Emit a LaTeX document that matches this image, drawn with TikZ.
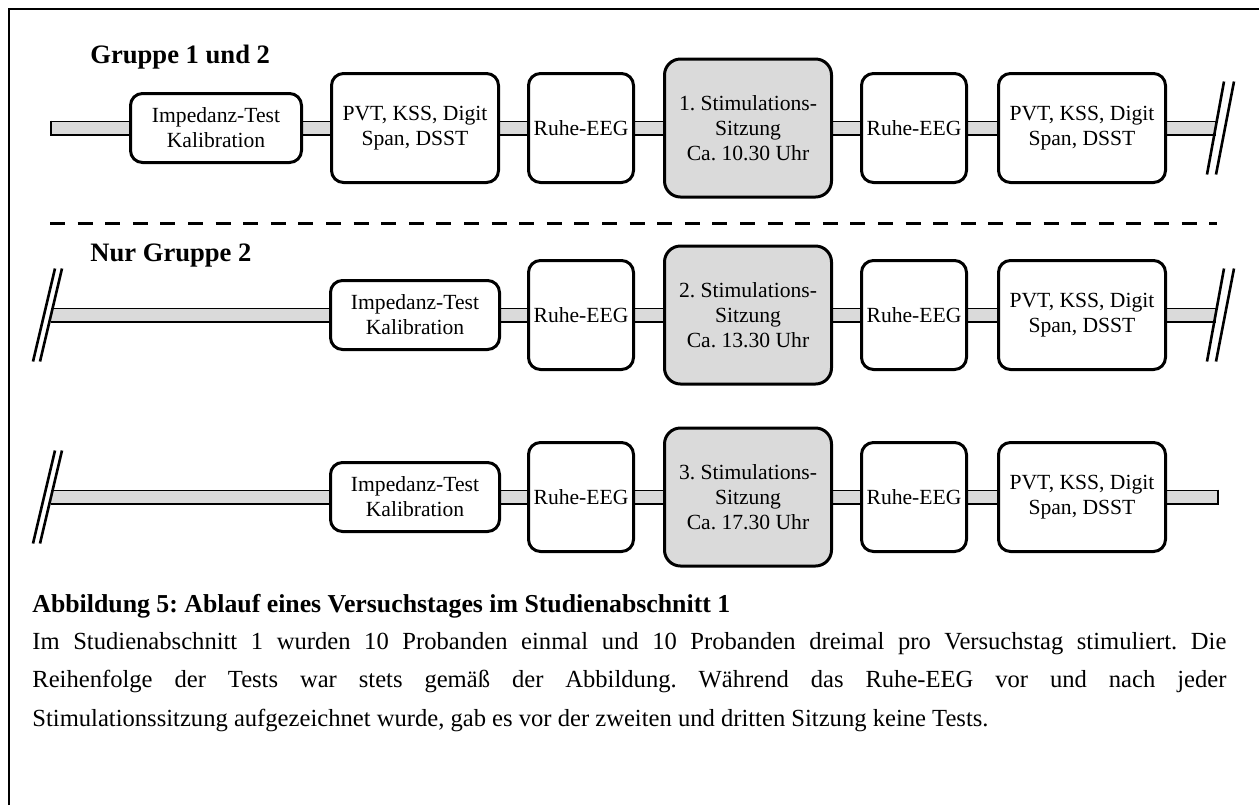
\documentclass[tikz,border=0pt]{standalone}
\usepackage{fontspec}
\setmainfont{Liberation Serif}
\definecolor{barcol}{RGB}{218,218,218}
\pgfdeclarelayer{bg}
\pgfsetlayers{bg,main}
\frenchspacing
\begin{document}
\begin{tikzpicture}[x=0.5pt,y=-0.5pt,
  stepbox/.style={draw=black, line width=1.5pt, fill=white, rounded corners=6pt,
    align=center, inner sep=0pt, font=\fontsize{10.8}{12.5}\selectfont},
  impbox/.style={stepbox, minimum width=84.5pt, minimum height=34.5pt},
  pvtbox/.style={stepbox, minimum width=83.5pt, minimum height=54.5pt},
  ruhebox/.style={stepbox, minimum width=52.5pt, minimum height=54.5pt},
  stimbox/.style={stepbox, fill=barcol, rounded corners=8pt, minimum width=83.5pt, minimum height=69pt},
  bar/.style={draw=black, line width=0.75pt, double=barcol, double distance=6pt, shorten <=-0.5pt, shorten >=-0.5pt},
  endcap/.style={line width=0.75pt},
  slash/.style={line width=1.3pt},
  grouptitle/.style={anchor=base west, inner sep=0pt, font=\bfseries\fontsize{13.3}{16}\selectfont}
]
\useasboundingbox (0,0) rectangle (1259,805);
% frame
\draw[line width=1.35pt] (9,805) -- (9,9) -- (1259,9);

% titles
\node[grouptitle] (t1) at (90,63) {Gruppe 1 und 2};
\node[grouptitle] (t2) at (90,261) {Nur Gruppe 2};

% row 1
\node[impbox, minimum width=85.5pt] (imp1) at (216,128) {Impedanz-Test\\Kalibration};
\node[pvtbox] (pvt1) at (415,128) {PVT, KSS, Digit\\Span, DSST};
\node[ruhebox] (ruhe1a) at (581,128) {Ruhe-EEG};
\node[stimbox] (stim1) at (748,128) {1. Stimulations-\\Sitzung\\Ca. 10.30 Uhr};
\node[ruhebox] (ruhe1b) at (914,128) {Ruhe-EEG};
\node[pvtbox] (pvt1b) at (1082,128) {PVT, KSS, Digit\\Span, DSST};
\coordinate (s1) at (51,128);
\coordinate (e1) at (1215.5,128);

% row 2
\node[impbox] (imp2) at (415,315) {Impedanz-Test\\Kalibration};
\node[ruhebox] (ruhe2a) at (581,315) {Ruhe-EEG};
\node[stimbox] (stim2) at (748,315) {2. Stimulations-\\Sitzung\\Ca. 13.30 Uhr};
\node[ruhebox] (ruhe2b) at (914,315) {Ruhe-EEG};
\node[pvtbox] (pvt2) at (1082,315) {PVT, KSS, Digit\\Span, DSST};
\coordinate (s2) at (51,315);
\coordinate (e2) at (1215.5,315);

% row 3
\node[impbox] (imp3) at (415,497) {Impedanz-Test\\Kalibration};
\node[ruhebox] (ruhe3a) at (581,497) {Ruhe-EEG};
\node[stimbox] (stim3) at (748,497) {3. Stimulations-\\Sitzung\\Ca. 17.30 Uhr};
\node[ruhebox] (ruhe3b) at (914,497) {Ruhe-EEG};
\node[pvtbox] (pvt3) at (1082,497) {PVT, KSS, Digit\\Span, DSST};
\coordinate (s3) at (51,497);
\coordinate (e3) at (1218,497);

\begin{pgfonlayer}{bg}
  % row 1 bars
  \draw[bar, shorten <=0pt] (s1) -- (imp1.west);
  \draw[bar] (imp1.east) -- (pvt1.west);
  \draw[bar] (pvt1.east) -- (ruhe1a.west);
  \draw[bar] (ruhe1a.east) -- (stim1.west);
  \draw[bar] (stim1.east) -- (ruhe1b.west);
  \draw[bar] (ruhe1b.east) -- (pvt1b.west);
  \draw[bar, shorten >=0pt] (pvt1b.east) -- (e1);
  % row 2 bars
  \draw[bar, shorten <=0pt] (s2) -- (imp2.west);
  \draw[bar] (imp2.east) -- (ruhe2a.west);
  \draw[bar] (ruhe2a.east) -- (stim2.west);
  \draw[bar] (stim2.east) -- (ruhe2b.west);
  \draw[bar] (ruhe2b.east) -- (pvt2.west);
  \draw[bar, shorten >=0pt] (pvt2.east) -- (e2);
  % row 3 bars
  \draw[bar, shorten <=0pt] (s3) -- (imp3.west);
  \draw[bar] (imp3.east) -- (ruhe3a.west);
  \draw[bar] (ruhe3a.east) -- (stim3.west);
  \draw[bar] (stim3.east) -- (ruhe3b.west);
  \draw[bar] (ruhe3b.east) -- (pvt3.west);
  \draw[bar, shorten >=0pt] (pvt3.east) -- (e3);
\end{pgfonlayer}
% closed bar ends
\draw[endcap] ([yshift=3.75pt]s1) -- ([yshift=-3.75pt]s1);
\draw[endcap] ([yshift=3.75pt]e3) -- ([yshift=-3.75pt]e3);

% break marks (right)
\draw[slash] (1224,81.5) -- (1207,174.5);
\draw[slash] (1234,81.5) -- (1216,174.5);
\draw[slash] (1224,268.5) -- (1207,361.5);
\draw[slash] (1234,268.5) -- (1216,361.5);
% break marks (left)
\draw[slash] (55,268.5) -- (33,361.5);
\draw[slash] (62,268.5) -- (40,361.5);
\draw[slash] (55,450.5) -- (33,543.5);
\draw[slash] (62,450.5) -- (40,543.5);

% separator
\draw[line width=1.6pt, dash pattern=on 7.5pt off 6.3pt] (50,223.5) -- (1217,223.5);

% caption
\node[anchor=base west, inner sep=0pt, font=\bfseries\fontsize{12.9}{15}\selectfont] (cap) at (32,612)
  {Abbildung 5: Ablauf eines Versuchstages im Studienabschnitt 1};
\node[anchor=base west, inner sep=0pt] (para) at (32,649)
  {\parbox[t]{597pt}{\fontsize{12.3}{19.25}\selectfont\tolerance=9999\hyphenpenalty=10000
  Im Studienabschnitt 1 wurden 10 Probanden einmal und 10 Probanden dreimal pro Versuchstag stimuliert. Die\linebreak
  Reihenfolge der Tests war stets gemäß der Abbildung. Während das Ruhe-EEG vor und nach jeder\linebreak
  Stimulationssitzung aufgezeichnet wurde, gab es vor der zweiten und dritten Sitzung keine Tests.}};
\end{tikzpicture}
\end{document}
